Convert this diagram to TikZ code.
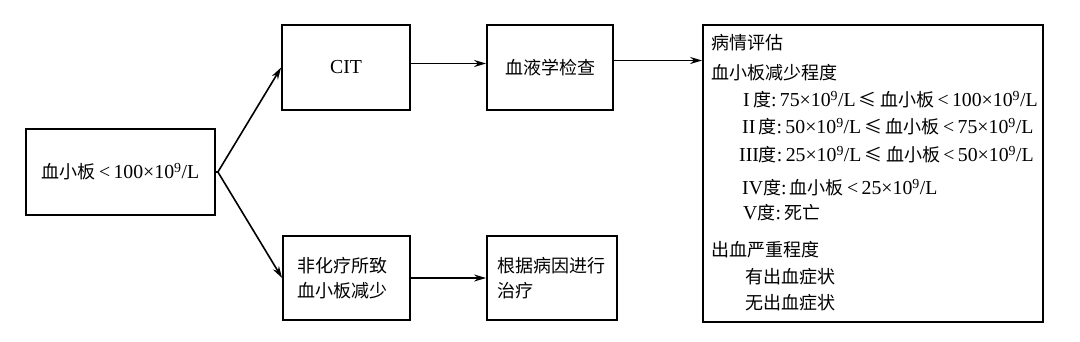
\documentclass[tikz,border=0pt]{standalone}
\usepackage{fontspec}
\setmainfont{Liberation Serif}[Scale=1.1]
\newfontfamily\cjk{Noto Sans CJK SC}
\newcommand\zhs[1]{{\cjk #1}}
\newcommand\tnine{10\textsuperscript{9}/L}
\newcommand\leqz{\,{\cjk ≤}\,}
\usetikzlibrary{arrows.meta}
\begin{document}
\begin{tikzpicture}[x=1pt,y=-1pt,
  box/.style={draw,line width=1.8pt,inner sep=0pt,minimum width=#1},
  conn/.style={line width=1.6pt,-{Stealth[length=12pt,width=7pt]}},
  txt/.style={anchor=west,inner sep=0pt,font=\fontsize{18}{21}\selectfont},
  lbl/.style={align=left,inner sep=0pt,font=\fontsize{18}{25}\selectfont}]
\useasboundingbox (0,0) rectangle (1080,341);
\fill[white] (0,0) rectangle (1080,341);
\node[box=189pt,minimum height=86pt] (plt) at (120.5,172) {};
\node[lbl] at (plt.center) {\zhs{血小板}\,<\,100×\tnine};
\node[box=128pt,minimum height=85pt] (cit) at (346,67.5) {};
\node[lbl] at (cit.center) {CIT};
\node[box=126pt,minimum height=85pt] (blood) at (550,67.5) {};
\node[lbl] at (blood.center) {\zhs{血液学检查}};
\node[box=127pt,minimum height=84pt] (non) at (346.5,278) {};
\node[lbl,anchor=west] at ([xshift=15pt]non.west) {\zhs{非化疗所致}\\\zhs{血小板减少}};
\node[box=130pt,minimum height=84pt] (treat) at (552,278) {};
\node[lbl,anchor=west] at ([xshift=11pt]treat.west) {\zhs{根据病因进行}\\\zhs{治疗}};
\node[box=340pt,minimum height=297pt] (assess) at (873,173.5) {};
\node[txt] (t1) at (711,43) {\zhs{病情评估}};
\node[txt] (t2) at (711,73) {\zhs{血小板减少程度}};
\node[txt] (t3) at (743,100) {I\,\zhs{度}:\,75×\tnine\leqz\zhs{血小板}\,<\,100×\tnine};
\node[txt] (t4) at (742,127) {II\,\zhs{度}:\,50×\tnine\leqz\zhs{血小板}\,<\,75×\tnine};
\node[txt] (t5) at (739,155) {III\zhs{度}:\,25×\tnine\leqz\zhs{血小板}\,<\,50×\tnine};
\node[txt] (t6) at (742,188) {IV\zhs{度}:\,\zhs{血小板}\,<\,25×\tnine};
\node[txt] (t7) at (743,213) {V\zhs{度}:\,\zhs{死亡}};
\node[txt] (t8) at (711,250) {\zhs{出血严重程度}};
\node[txt] (t9) at (745,277) {\zhs{有出血症状}};
\node[txt] (t10) at (745,303) {\zhs{无出血症状}};
\coordinate (fork) at ([xshift=2pt]plt.east);
\draw[line width=1.6pt] (plt.east) -- (fork);
\draw[conn] (fork) -- (cit.west);
\draw[conn] (fork) -- (non.west);
\draw[conn] ([yshift=4pt]cit.east) -- ([yshift=4pt]blood.west);
\draw[conn] ([yshift=7pt]blood.east) -- ([yshift=7pt]blood.east -| assess.west);
\draw[conn] (non.east) -- (treat.west);
\end{tikzpicture}
\end{document}
